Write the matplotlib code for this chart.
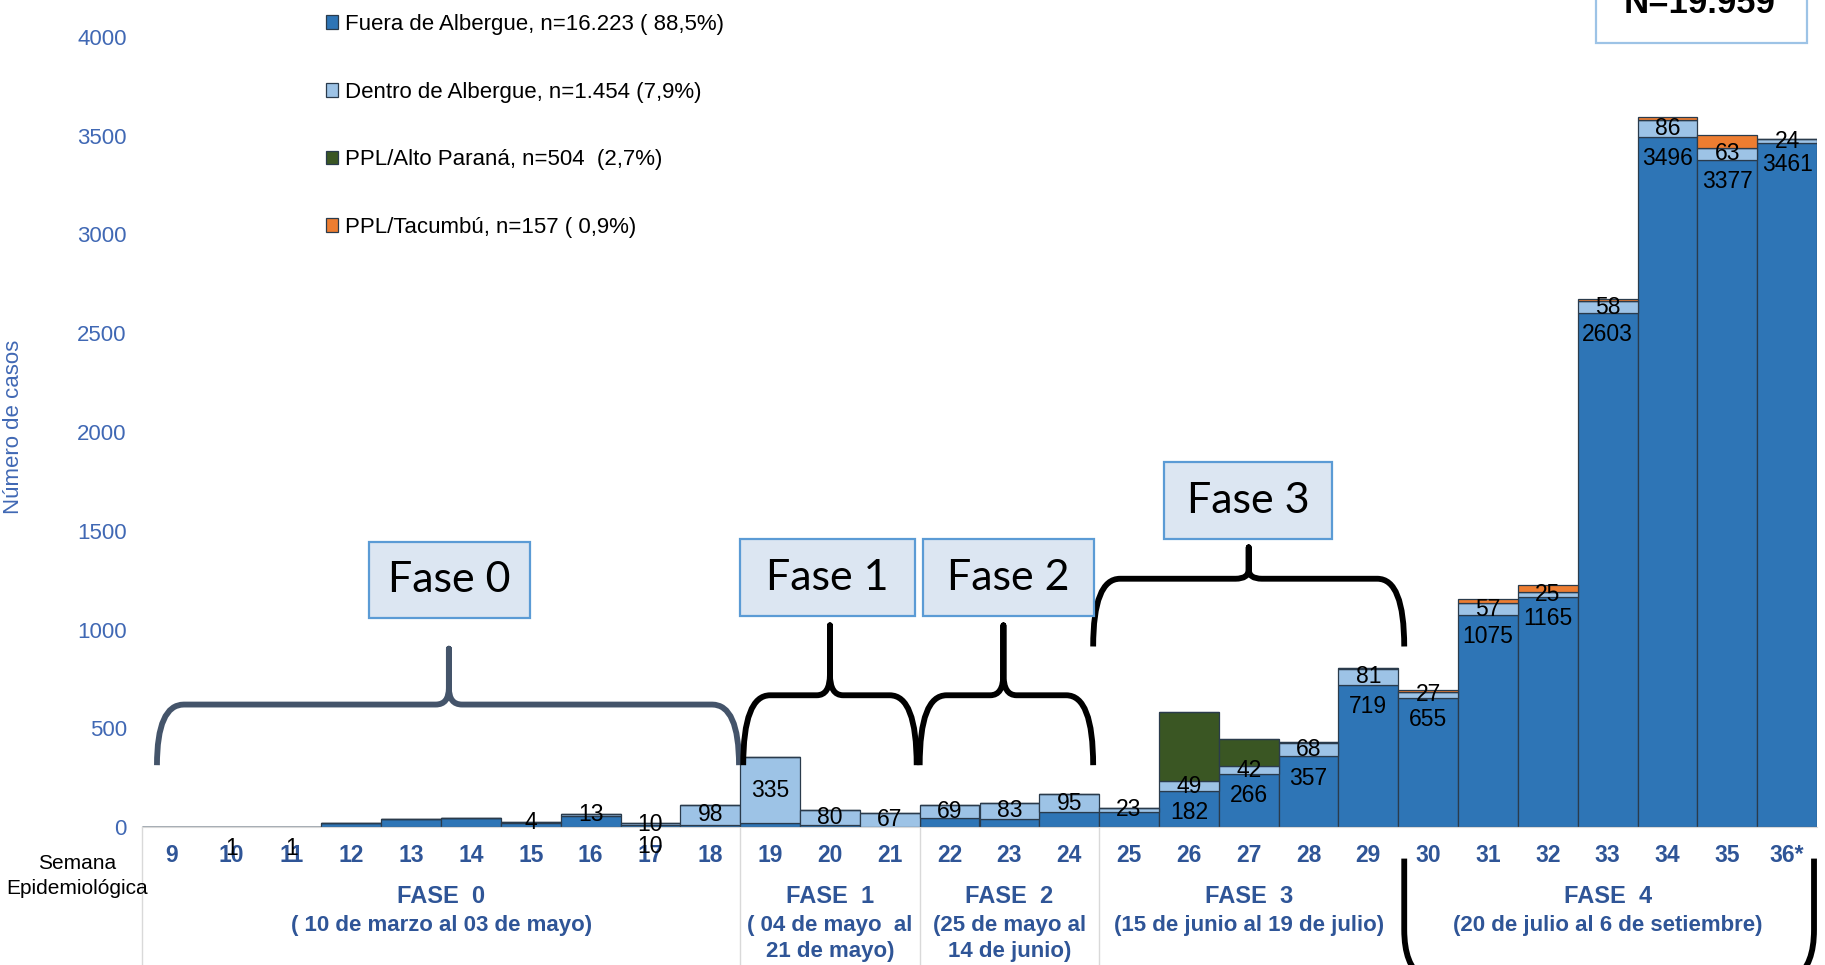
import matplotlib
matplotlib.use("Agg")
import matplotlib.pyplot as plt
from matplotlib.path import Path
from matplotlib.patches import PathPatch, Rectangle
import numpy as np

# datos por semana epidemiologica
semanas = ['9', '10', '11', '12', '13', '14', '15', '16', '17', '18', '19', '20', '21', '22',
           '23', '24', '25', '26', '27', '28', '29', '30', '31', '32', '33', '34', '35', '36*']
fuera = [0, 1, 1, 20, 39, 44, 21, 55, 10, 12, 19, 8, 2, 44, 40, 74, 75, 182, 266, 357,
         719, 655, 1075, 1165, 2603, 3496, 3377, 3461]
dentro = [0, 0, 0, 0, 0, 0, 4, 13, 10, 98, 335, 80, 67, 69, 83, 95, 23, 49, 42, 68,
          81, 27, 57, 25, 58, 86, 63, 24]
alto_parana = [0] * 17 + [352, 140, 6, 6] + [0] * 7
tacumbu = [0] * 21 + [12, 22, 33, 14, 12, 64, 0]
# semanas donde se muestra la etiqueta de "fuera"
fuera_etiq = [1, 2, 8] + list(range(17, 28))

leyenda = ['Fuera de Albergue, n=16.223 ( 88,5%)',
           'Dentro de Albergue, n=1.454 (7,9%)',
           'PPL/Alto Paraná, n=504  (2,7%)',
           'PPL/Tacumbú, n=157 ( 0,9%)']
colores = ['#2e75b6', '#9dc3e6', '#3a5623', '#ed7d31']

# fases
fase_tit = ['FASE  0', 'FASE  1', 'FASE  2', 'FASE  3', 'FASE  4']
fase_fecha = [['( 10 de marzo al 03 de mayo)'], ['( 04 de mayo  al', '21 de mayo)'],
              ['(25 de mayo al', '14 de junio)'], ['(15 de junio al 19 de julio)'],
              ['(20 de julio al 6 de setiembre)']]
fase_ini = [0, 10, 13, 16, 21]
fase_fin = [9, 12, 15, 20, 27]

# llaves y cajas de las fases 0-3
caja_txt = ['Fase 0', 'Fase 1', 'Fase 2', 'Fase 3']
caja_x = [(3.29, 5.99), (9.49, 12.43), (12.55, 15.41), (16.58, 19.40)]
caja_y = [(1056, 1445), (1068, 1457), (1068, 1457), (1457, 1847)]
llave_x = [(-0.25, 4.63, 9.48), (9.55, 11.0, 12.45), (12.5, 13.9, 15.4), (15.4, 18.0, 20.6)]
llave_y = [(313, 620, 903), (313, 667, 1021), (313, 667, 1021), (914, 1257, 1416)]
llave_col = ['#44546a', 'black', 'black', 'black']

azul_txt = '#2f5597'
fuente = ['Liberation Sans', 'DejaVu Sans']

fig = plt.figure(figsize=(18.25, 9.65), dpi=100)
ax = fig.add_axes([142 / 1825, 138 / 965, 1675 / 1825, 790 / 965])
x = np.arange(len(semanas))

series = [fuera, dentro, alto_parana, tacumbu]
base = np.zeros(len(semanas))
for vals, col, lab in zip(series, colores, leyenda):
    v = np.array(vals, dtype=float)
    ax.bar(x, v, width=1.0, bottom=base, color=col, edgecolor='#2a3b4c',
           linewidth=0.9, label=lab, zorder=2)
    base = base + v

# etiquetas de datos
for i in range(len(semanas)):
    if dentro[i] > 0:
        ax.text(x[i], fuera[i] + dentro[i] / 2, str(dentro[i]), ha='center', va='center',
                fontsize=16.5, family=fuente, zorder=5)
    if i in fuera_etiq:
        ax.annotate(str(fuera[i]), (x[i], fuera[i]), xytext=(0, -15.5),
                    textcoords='offset points', ha='center', va='center',
                    fontsize=16.5, family=fuente, zorder=5, annotation_clip=False)

ax.set_xlim(-0.5, len(semanas) - 0.5)
ax.set_ylim(0, 4000)
ax.set_yticks(np.arange(0, 4001, 500))
ax.tick_params(axis='y', length=0, pad=11, labelcolor='#4068b4', labelsize=16)
ax.set_xticks(x)
ax.set_xticklabels(semanas)
ax.tick_params(axis='x', length=0, pad=12, labelcolor=azul_txt, labelsize=16.5)
for t in ax.get_xticklabels() + ax.get_yticklabels():
    t.set_family(fuente)
for t in ax.get_xticklabels():
    t.set_fontweight('bold')
for s in ['top', 'right', 'left']:
    ax.spines[s].set_visible(False)
ax.spines['bottom'].set_color('#d9d9d9')
ax.spines['bottom'].set_bounds(-0.5, 27.5)

# lineas de la tabla inferior
for xv in [-0.5, 9.5, 12.5, 15.5]:
    ax.plot([xv, xv], [0, -800], color='#d9d9d9', lw=1, clip_on=False, zorder=1)

# textos de fases
trans = ax.get_xaxis_transform()
for tit, fechas, a, b in zip(fase_tit, fase_fecha, fase_ini, fase_fin):
    xc = (a + b) / 2
    ax.text(xc, -0.0886, tit, transform=trans, ha='center', va='center', fontsize=17,
            fontweight='bold', color=azul_txt, family=fuente)
    for k, f in enumerate(fechas):
        ax.text(xc, -0.125 - 0.033 * k, f, transform=trans, ha='center', va='center',
                fontsize=16, fontweight='bold', color=azul_txt, family=fuente)


def llave(x0, xc, x1, yb, yh, yp, color):
    rx = 0.45
    cx = 0.22
    c = (yp - yh) * 0.3
    verts = [(x0, yb), (x0, yh), (x0 + rx, yh),
             (xc - cx, yh), (xc, yh), (xc, yh + c), (xc, yp),
             (xc, yh + c), (xc, yh), (xc + cx, yh),
             (x1 - rx, yh), (x1, yh), (x1, yb)]
    codes = [Path.MOVETO, Path.CURVE3, Path.CURVE3,
             Path.LINETO, Path.CURVE3, Path.CURVE3, Path.LINETO,
             Path.LINETO, Path.CURVE3, Path.CURVE3,
             Path.LINETO, Path.CURVE3, Path.CURVE3]
    ax.add_patch(PathPatch(Path(verts, codes), fill=False, lw=4.2, ec=color,
                           capstyle='butt', joinstyle='round', zorder=4, clip_on=False))


for (x0, xc, x1), (yb, yh, yp), col in zip(llave_x, llave_y, llave_col):
    llave(x0, xc, x1, yb, yh, yp, col)

# llave de la fase 4 (debajo del eje)
for xs, d in [(20.6, 1), (27.45, -1)]:
    verts = [(xs, -160), (xs, -520), (xs, -700), (xs + d * 0.3, -760)]
    codes = [Path.MOVETO, Path.LINETO, Path.CURVE3, Path.CURVE3]
    ax.add_patch(PathPatch(Path(verts, codes), fill=False, lw=4.2, ec='black',
                           zorder=4, clip_on=False))

# cajas de fase
for txt, (xa, xb), (ya, yb) in zip(caja_txt, caja_x, caja_y):
    ax.add_patch(Rectangle((xa, ya), xb - xa, yb - ya, fc='#dce6f2', ec='#5b9bd5',
                           lw=1.6, zorder=4, clip_on=False))
    ax.text((xa + xb) / 2, (ya + yb) / 2, txt, ha='center', va='center', fontsize=31,
            family=['Lato', 'DejaVu Sans'], zorder=5)

# leyenda
ax.legend(loc='upper left', bbox_to_anchor=(326 / 1825, 1 - 14 / 965),
          bbox_transform=fig.transFigure, frameon=False,
          prop={'family': fuente, 'size': 16},
          handlelength=0.55, handleheight=0.55, handletextpad=0.3, labelspacing=2.1,
          borderpad=0, borderaxespad=0)

# caja N
fig.patches.append(Rectangle((1596 / 1825, 1 - 43 / 965), 211 / 1825, 60 / 965,
                             transform=fig.transFigure, fc='white', ec='#9dc3e6', lw=1.6))
fig.text(1700 / 1825, 1 - 13 / 965, 'N=19.959', ha='center', va='baseline', fontsize=25,
         fontweight='bold', family=fuente)

fig.text(14 / 1825, 1 - 427 / 965, 'Número de casos', rotation=90, ha='center',
         va='center', fontsize=16, color='#4068b4', family=fuente)
fig.text(77 / 1825, 1 - 876 / 965, 'Semana\nEpidemiológica', ha='center', va='center',
         fontsize=15, family=fuente, linespacing=1.4)

fig.savefig('out.png', dpi=100)
